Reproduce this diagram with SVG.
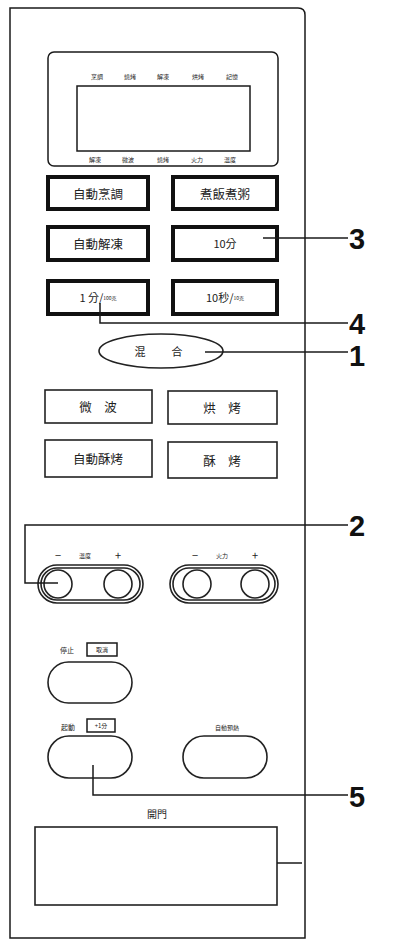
<svg xmlns="http://www.w3.org/2000/svg" width="394" height="940" viewBox="0 0 394 940">
<style>
.ln{fill:none;stroke:#1a1a1a;stroke-width:1.5}
.thick{fill:#fff;stroke:#111;stroke-width:4}
.thin{fill:#fff;stroke:#222;stroke-width:1.6}
.t{font-family:"Noto Sans CJK TC","Noto Sans CJK SC",sans-serif;fill:#222;text-anchor:middle;dominant-baseline:central}
.s{font-size:12.5px}
.xs{font-size:6px}
.num{font-family:"Liberation Sans",Arial,sans-serif;font-weight:bold;font-size:29px;fill:#111;dominant-baseline:central}
</style>
<rect width="394" height="940" fill="#fff"/>
<g id="panel">
<path class="ln" d="M10,938 L10,8 L298,8 Q305,8 305,15 L305,938 Z" stroke-width="1.8"/>
</g>
<g id="display">
<rect class="ln" x="48" y="52" width="230" height="114" rx="6"/>
<rect class="ln" x="77" y="86" width="173" height="65"/>
<text class="t xs" x="97" y="76">烹調</text>
<text class="t xs" x="130" y="76">燒烤</text>
<text class="t xs" x="163" y="76">解凍</text>
<text class="t xs" x="198" y="76">烘烤</text>
<text class="t xs" x="232" y="76">記憶</text>
<text class="t xs" x="95" y="159">解凍</text>
<text class="t xs" x="128" y="159">微波</text>
<text class="t xs" x="163" y="159">燒烤</text>
<text class="t xs" x="197" y="159">火力</text>
<text class="t xs" x="230" y="159">溫度</text>
</g>
<g id="btn-auto-cook"><rect class="thick" x="48" y="177" width="100" height="32"/><text class="t s" x="98" y="193">自動烹調</text></g>
<g id="btn-rice"><rect class="thick" x="173" y="177" width="104" height="32"/><text class="t s" x="225" y="193">煮飯煮粥</text></g>
<g id="btn-defrost"><rect class="thick" x="48" y="227" width="100" height="33"/><text class="t s" x="98" y="243">自動解凍</text></g>
<g id="btn-10min"><rect class="thick" x="173" y="227" width="104" height="33"/><text class="t" x="225" y="243" font-size="11">10分</text></g>
<g id="btn-1min"><rect class="thick" x="48" y="281" width="100" height="33" stroke-width="3.2"/><text class="t" x="98" y="297" font-size="11">1 分/<tspan font-size="5">100克</tspan></text></g>
<g id="btn-10sec"><rect class="thick" x="173" y="281" width="104" height="33"/><text class="t" x="225" y="297" font-size="11">10秒/<tspan font-size="5">10克</tspan></text></g>
<g id="btn-mix"><ellipse class="thin" cx="161" cy="351" rx="62" ry="17"/><text class="t" x="140" y="351" font-size="11">混</text><text class="t" x="177" y="351" font-size="11">合</text></g>
<g id="btn-micro"><rect class="thin" x="45" y="390" width="107" height="33"/><text class="t s" x="98" y="406">微　波</text></g>
<g id="btn-bake"><rect class="thin" x="168" y="391" width="109" height="33"/><text class="t s" x="222" y="407">烘　烤</text></g>
<g id="btn-auto-crisp"><rect class="thin" x="45" y="440" width="107" height="37"/><text class="t s" x="98" y="458">自動酥烤</text></g>
<g id="btn-crisp"><rect class="thin" x="168" y="442" width="109" height="36"/><text class="t s" x="222" y="460">酥　烤</text></g>
<g id="dial-temp">
<rect class="thin" x="38" y="565" width="105" height="38" rx="19"/>
<rect class="thin" x="41" y="568" width="99" height="32" rx="16"/>
<circle class="thin" cx="58" cy="584" r="14"/>
<circle class="thin" cx="118" cy="584" r="14"/>
<text class="t" x="58" y="555" font-size="11">−</text>
<text class="t xs" x="85" y="555">溫度</text>
<text class="t" x="118" y="555" font-size="11">+</text>
</g>
<g id="dial-power">
<rect class="thin" x="170" y="565" width="108" height="38" rx="19"/>
<rect class="thin" x="173" y="568" width="102" height="32" rx="16"/>
<circle class="thin" cx="197" cy="584" r="14"/>
<circle class="thin" cx="255" cy="584" r="14"/>
<text class="t" x="195" y="555" font-size="11">−</text>
<text class="t xs" x="222" y="555">火力</text>
<text class="t" x="255" y="555" font-size="11">+</text>
</g>
<g id="btn-stop">
<text class="t" x="67" y="650" font-size="7">停止</text>
<rect class="ln" x="87" y="643" width="30" height="13" stroke-width="1.2"/>
<text class="t" x="102" y="649.5" font-size="6">取消</text>
<rect class="thin" x="48" y="662" width="84" height="41" rx="20.5"/>
</g>
<g id="btn-start">
<text class="t" x="68" y="727" font-size="7">起動</text>
<rect class="ln" x="87" y="719" width="28" height="13" stroke-width="1.2"/>
<text class="t" x="101" y="725.5" font-size="6">+1分</text>
<rect class="thin" x="48" y="736" width="84" height="42" rx="21"/>
</g>
<g id="btn-preheat">
<text class="t" x="227" y="727" font-size="6">自動預熱</text>
<rect class="thin" x="183" y="736" width="84" height="42" rx="21"/>
</g>
<g id="door">
<text class="t" x="157" y="813" font-size="10">開門</text>
<rect class="thin" x="35" y="827" width="242" height="78" stroke-width="1.8"/>
<line class="ln" x1="277" y1="863" x2="302" y2="863"/>
</g>
<g id="connectors">
<polyline class="ln" points="263,238 348,238"/>
<polyline class="ln" points="100,303 100,323 348,323"/>
<polyline class="ln" points="205,352 348,352"/>
<polyline class="ln" points="58,583 25,583 25,525 348,525"/>
<polyline class="ln" points="93,765 93,795 348,795"/>
</g>
<g id="labels">
<text class="num" x="349" y="239">3</text>
<text class="num" x="349" y="324">4</text>
<text class="num" x="349" y="356">1</text>
<text class="num" x="349" y="526">2</text>
<text class="num" x="349" y="797">5</text>
</g>
</svg>
